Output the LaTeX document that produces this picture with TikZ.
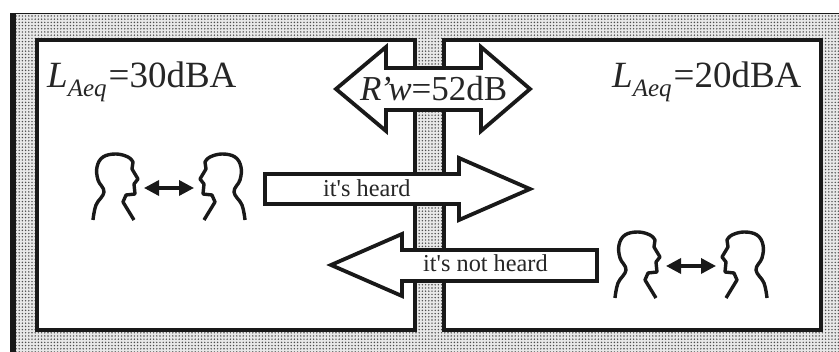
\documentclass[tikz,border=0pt]{standalone}
\usepackage{fontspec}
\usetikzlibrary{arrows.meta,patterns.meta}
\newfontfamily\labelfont{Liberation Serif}
\newcommand{\laeq}[1]{\textit{L}\raisebox{-9pt}{\fontsize{25}{25}\selectfont\textit{Aeq}}\kern2pt=#1dBA}
\tikzset{
  wall/.style={draw=black!90,line width=4.6pt,fill=white,line join=miter},
  bigarrow/.style={draw=black!90,line width=3.8pt,fill=white,line join=miter},
  biglabel/.style={font=\labelfont\fontsize{37}{37}\selectfont,text=black!85,inner sep=0pt,anchor=base west},
  smalllabel/.style={font=\labelfont\fontsize{24.3}{24.3}\selectfont,text=black!85,inner sep=0pt,anchor=base west},
  headline/.style={draw=black!90,line width=3.4pt,line join=round},
  talkers/.pic={
    \foreach \s in {1,-1} {
      \begin{scope}[xscale=\s]
        \draw[headline] plot[smooth,tension=.65] coordinates {(-76,32) (-73,17) (-65,4) (-71,-8) (-72,-21) (-66,-31) (-53,-34) (-41,-31) (-36,-26)}
          -- (-37,-19) -- (-31,-9) -- (-35,-4) -- (-34,6) -- (-43,7) -- (-46,14) -- (-35,32);
      \end{scope}
    }
    \coordinate (-l) at (-25,0);
    \coordinate (-r) at (25,0);
    \draw[black!90,line width=3.4pt,{Triangle[length=15pt,width=15pt]}-{Triangle[length=15pt,width=15pt]}] (-l) -- (-r);
  }
}
\begin{document}
\begin{tikzpicture}[x=1pt,y=-1pt]
\useasboundingbox (0,0) rectangle (839,352);

% background
\fill[gray!18] (10,14) rectangle (839,352);
\fill[pattern={Dots[distance=3.2pt,radius=.8pt]},pattern color=black!70] (10,14) rectangle (839,352);
\draw[black!90,line width=1pt] (10,14) -- (839,14);
\fill[black!90] (10,14) rectangle (16,352);

% rooms
\draw[wall] (37,40) rectangle (415,330);
\draw[wall] (444,40) rectangle (821,330);

% arrows
\draw[bigarrow] (336,89) -- (386,47) -- (386,68) -- (481,68) -- (481,47) -- (530,89) -- (481,131) -- (481,110) -- (386,110) -- (386,131) -- cycle;
\draw[bigarrow] (265,174) -- (459,174) -- (459,158) -- (530,189) -- (459,220) -- (459,204) -- (265,204) -- cycle;
\draw[bigarrow] (597,250) -- (402,250) -- (402,234) -- (331,265) -- (402,296) -- (402,281) -- (597,281) -- cycle;

% people
\pic (talkA) at (169,188) {talkers};
\pic (talkB) at (691,266) {talkers};

% labels
\node[biglabel] (leftlevel) at (47,88) {\laeq{30}};
\node[biglabel] (rightlevel) at (612,88) {\laeq{20}};
\node[biglabel,font=\labelfont\fontsize{35}{35}\selectfont] (rating) at (360,101) {\textit{R\kern-2pt’\kern-3pt w}=52dB};
\node[smalllabel] (heard) at (323,197) {it's heard};
\node[smalllabel] (notheard) at (423,272) {it's not heard};
\end{tikzpicture}
\end{document}
